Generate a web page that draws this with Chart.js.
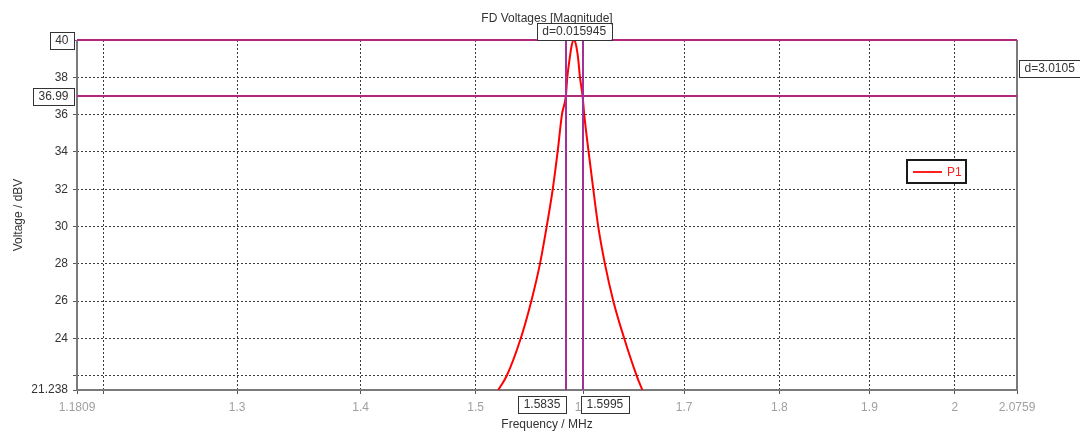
<!DOCTYPE html>
<html><head><meta charset="utf-8">
<script src="https://cdn.jsdelivr.net/npm/chart.js@4.4.0/dist/chart.umd.min.js"></script>
<style>html,body{margin:0;padding:0;background:#fff;overflow:hidden}#wrap{width:1080px;height:433px;position:relative}</style>
</head><body><div id="wrap"><canvas id="c" width="1080" height="433"></canvas></div>
<script>
// ---- data ----
const freqMHz = [1.5206,1.5283,1.5412,1.5510,1.5591,1.5654,1.5711,1.5757,1.5798,1.5835,1.5849,1.5872,1.5892,1.5912,1.5932,1.5952,1.5970,1.5995,1.6011,1.6053,1.6098,1.6146,1.6211,1.6293,1.6400,1.6523,1.6579];
const voltageDBV = [21.238,22,24,26,28,30,32,34,36,36.99,38,39.03,39.74,40,39.74,39.03,38,36.99,36,34,32,30,28,26,24,22,21.238];
const xTickValues = [1.1809,1.2,1.3,1.4,1.5,1.6,1.7,1.8,1.9,2,2.0759];
const xTickLabels = ['1.1809','','1.3','1.4','1.5','1.6','1.7','1.8','1.9','2','2.0759'];
const yTickValues = [21.238,22,24,26,28,30,32,34,36,38,40];
const yTickLabels = ['21.238','','24','26','28','30','32','34','36','38',''];
const xMarkers = [1.5835,1.5995];
const xMarkerLabels = ['1.5835','1.5995'];
const yMarkers = [40,36.99];
const yMarkerLabels = ['40','36.99'];
const xDeltaLabel = 'd=0.015945';
const yDeltaLabel = 'd=3.0105';
const titleText = 'FD Voltages [Magnitude]';
const xTitle = 'Frequency / MHz';
const yTitle = 'Voltage / dBV';
const seriesName = 'P1';

const FONT = '"Liberation Sans", Arial, sans-serif';
const F12 = '12px ' + FONT;

function box(ctx, x, y, w, h, text, textX, align) {
  ctx.save();
  ctx.fillStyle = '#fff';
  ctx.fillRect(x, y, w, h);
  ctx.strokeStyle = '#333';
  ctx.lineWidth = 1;
  ctx.strokeRect(Math.round(x) + 0.5, Math.round(y) + 0.5, Math.round(w), Math.round(h));
  ctx.fillStyle = '#333';
  ctx.font = F12;
  ctx.textAlign = align || 'center';
  ctx.textBaseline = 'middle';
  ctx.fillText(text, textX, y + h / 2 + 0.5);
  ctx.restore();
}

const decor = {
  id: 'decor',
  beforeDatasetsDraw(chart) {
    const {ctx, chartArea: a} = chart;
    ctx.save();
    ctx.strokeStyle = '#7a7a7a';
    ctx.lineWidth = 2;
    ctx.beginPath();
    ctx.moveTo(a.left, a.top); ctx.lineTo(a.left, a.bottom); ctx.lineTo(a.right, a.bottom); ctx.lineTo(a.right, a.top);
    ctx.stroke();
    ctx.restore();
  },
  afterDatasetsDraw(chart) {
    const {ctx, chartArea: a, scales: {x, y}} = chart;
    ctx.save();
    ctx.strokeStyle = '#b3287f';
    ctx.lineWidth = 2;
    yMarkers.forEach(v => {
      const py = Math.round(y.getPixelForValue(v));
      ctx.beginPath(); ctx.moveTo(a.left, py); ctx.lineTo(a.right, py); ctx.stroke();
    });
    ctx.strokeStyle = '#a3309a';
    xMarkers.forEach(v => {
      const px = Math.round(x.getPixelForValue(v));
      ctx.beginPath(); ctx.moveTo(px, a.top); ctx.lineTo(px, a.bottom); ctx.stroke();
    });
    ctx.restore();
  },
  afterDraw(chart) {
    const {ctx, chartArea: a, scales: {x, y}} = chart;
    ctx.save();
    ctx.font = F12;
    const pad = 5.5, h = 17;
    ctx.fillStyle = '#333';
    ctx.textAlign = 'center';
    ctx.textBaseline = 'alphabetic';
    ctx.fillText(titleText, (a.left + a.right) / 2, 22);
    yMarkers.forEach((v, i) => {
      const py = y.getPixelForValue(v);
      const w = ctx.measureText(yMarkerLabels[i]).width + 2 * pad;
      box(ctx, a.left - 3 - w, py - h / 2, w, h, yMarkerLabels[i], a.left - 3 - w / 2);
    });
    const x0 = x.getPixelForValue(xMarkers[0]);
    const x1 = x.getPixelForValue(xMarkers[1]);
    const w0 = ctx.measureText(xMarkerLabels[0]).width + 2 * pad;
    const w1 = ctx.measureText(xMarkerLabels[1]).width + 2 * pad;
    box(ctx, x0 - w0, a.bottom + 6, w0, h, xMarkerLabels[0], x0 - w0 / 2);
    box(ctx, x1 - 1.5, a.bottom + 6, w1, h, xMarkerLabels[1], x1 - 1.5 + w1 / 2);
    const wd = ctx.measureText(xDeltaLabel).width + 2 * pad;
    box(ctx, (x0 + x1) / 2 - wd / 2, a.top - h, wd, h, xDeltaLabel, (x0 + x1) / 2);
    const ym = (y.getPixelForValue(yMarkers[0]) + y.getPixelForValue(yMarkers[1])) / 2;
    const wy = ctx.measureText(yDeltaLabel).width + 2 * pad;
    box(ctx, a.right + 2, ym - h / 2, wy, h, yDeltaLabel, a.right + 2 + wy / 2);
    // legend
    const lx = 907, ly = 160, lw = 59, lh = 23;
    ctx.fillStyle = '#fff';
    ctx.fillRect(lx, ly, lw, lh);
    ctx.strokeStyle = '#1a1a1a';
    ctx.lineWidth = 2;
    ctx.strokeRect(lx, ly, lw, lh);
    ctx.strokeStyle = '#ff2020';
    ctx.lineWidth = 2;
    ctx.beginPath(); ctx.moveTo(lx + 6, ly + 12); ctx.lineTo(lx + 35, ly + 12); ctx.stroke();
    ctx.fillStyle = '#ff2020';
    ctx.textAlign = 'left';
    ctx.textBaseline = 'middle';
    ctx.fillText(seriesName, lx + 40, ly + 12.5);
    ctx.restore();
  }
};

new Chart(document.getElementById('c').getContext('2d'), {
  type: 'line',
  data: {
    datasets: [{
      label: seriesName,
      data: freqMHz.map((f, i) => ({x: f, y: voltageDBV[i]})),
      borderColor: '#ff0000',
      borderWidth: 2,
      pointRadius: 0,
      cubicInterpolationMode: 'monotone',
      fill: false
    }]
  },
  options: {
    responsive: false,
    animation: false,
    devicePixelRatio: 1,
    layout: {padding: {top: 40, right: 63, left: 0, bottom: 0}},
    plugins: {legend: {display: false}, title: {display: false}, tooltip: {enabled: false}},
    scales: {
      x: {
        type: 'logarithmic', min: xTickValues[0], max: xTickValues[xTickValues.length - 1],
        afterBuildTicks: s => { s.ticks = xTickValues.map(v => ({value: v})); },
        afterFit: s => { s.height = 43; },
        ticks: {autoSkip: false, maxRotation: 0, minRotation: 0, color: '#a0a0a0', padding: 6,
          font: {family: FONT, size: 12}, callback: (v, i) => xTickLabels[i]},
        grid: {color: c => (c.index === 0 || c.index === xTickValues.length - 1) ? 'rgba(0,0,0,0)' : '#3a3a3a',
          lineWidth: 1, tickLength: 4, tickColor: '#555', tickWidth: 1},
        border: {display: false, dash: [2, 2]},
        title: {display: true, text: xTitle, color: '#333', font: {family: FONT, size: 12}, padding: {top: 0, bottom: 1}}
      },
      y: {
        type: 'linear', min: yTickValues[0], max: yTickValues[yTickValues.length - 1],
        afterBuildTicks: s => { s.ticks = yTickValues.map(v => ({value: v})); },
        afterFit: s => { s.width = 77; },
        ticks: {autoSkip: false, color: '#333', padding: 5, font: {family: FONT, size: 12},
          callback: (v, i) => yTickLabels[i]},
        grid: {color: c => (c.index === 0 || c.index === yTickValues.length - 1) ? 'rgba(0,0,0,0)' : '#3a3a3a',
          lineWidth: 1, tickLength: 4, tickColor: '#555', tickWidth: 1},
        border: {display: false, dash: [2, 2]},
        title: {display: true, text: yTitle, color: '#333', font: {family: FONT, size: 12}, padding: {top: 11, bottom: 0}}
      }
    }
  },
  plugins: [decor]
});
</script>
</body></html>
